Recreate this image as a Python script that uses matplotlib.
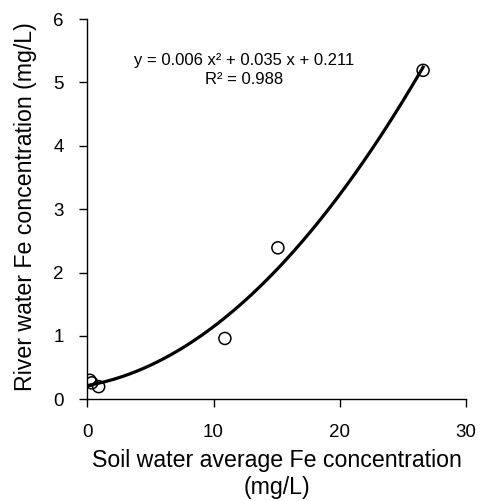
import numpy as np
import matplotlib
matplotlib.use("Agg")
import matplotlib.pyplot as plt

plt.rcParams['font.family'] = ['Liberation Sans', 'DejaVu Sans']

soil_fe = [0.2, 0.35, 0.9, 10.9, 15.1, 26.6]
river_fe = [0.30, 0.26, 0.20, 0.96, 2.39, 5.19]
eq_text = "y = 0.006 x² + 0.035 x + 0.211\nR² = 0.988"

W, H = 482, 501
fig = plt.figure(figsize=(W/100, H/100), dpi=100)
x0, x1, ytop, ybot = 87.3, 466, 19, 399.3
ax = fig.add_axes([x0/W, 1 - ybot/H, (x1 - x0)/W, (ybot - ytop)/H])

coef = np.polyfit(soil_fe, river_fe, 2)
xs = np.linspace(min(soil_fe), max(soil_fe), 200)
ax.plot(xs, np.polyval(coef, xs), color='black', lw=2.3, zorder=2)
ax.scatter(soil_fe, river_fe, s=75, facecolors='none', edgecolors='black', linewidths=1.1, zorder=3)

ax.set_xlim(0, 30)
ax.set_ylim(0, 6)
ax.set_xticks([0, 10, 20, 30])
ax.set_yticks([0, 1, 2, 3, 4, 5, 6])
for s in ['top', 'right']:
    ax.spines[s].set_visible(False)
for s in ['left', 'bottom']:
    ax.spines[s].set_linewidth(1.0)
ax.tick_params(direction='out', length=6, width=1.0, labelsize=13.5)
ax.tick_params(axis='x', pad=12)
ax.tick_params(axis='y', pad=11)

fig.text(277/W, 1 - 467/H, "Soil water average Fe concentration", ha='center', va='baseline', fontsize=16.7)
fig.text(277/W, 1 - 494/H, "(mg/L)", ha='center', va='baseline', fontsize=16.7)
fig.text(26/W, 1 - 207/H, "River water Fe concentration (mg/L)", ha='center', va='center',
         rotation=90, fontsize=16.7)

fig.text(244.5/W, 1 - 70/H, eq_text, ha='center', va='center', fontsize=12, linespacing=1.35)

fig.savefig("out.png", dpi=100)
